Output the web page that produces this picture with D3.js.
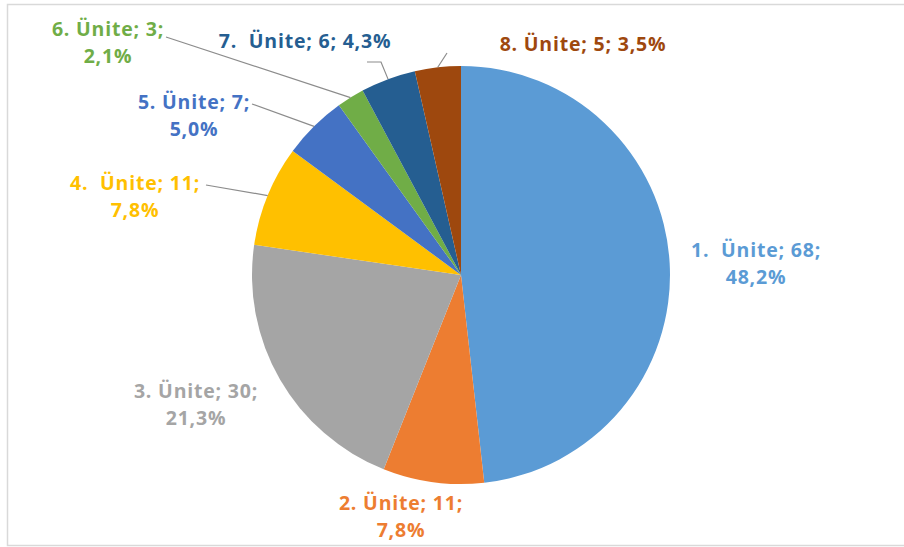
<!DOCTYPE html>
<html>
<head>
<meta charset="utf-8">
<script src="https://cdn.jsdelivr.net/npm/d3@7"></script>
<style>
  html, body { margin: 0; padding: 0; background: #fff; }
  svg { display: block; }
  text { font-family: "Open Sans", "Liberation Sans", sans-serif; font-weight: 700; white-space: pre; letter-spacing: 0.8px; }
</style>
</head>
<body>
<svg id="chart" width="904" height="547"></svg>
<script>
// Unit names, question counts and shares (percent) per unit
const units = ["1.  Ünite", "2. Ünite", "3. Ünite", "4.  Ünite", "5. Ünite", "6. Ünite", "7.  Ünite", "8. Ünite"];
const counts = [68, 11, 30, 11, 7, 3, 6, 5];
const shares = ["48,2%", "7,8%", "21,3%", "7,8%", "5,0%", "2,1%", "4,3%", "3,5%"];
const colors = ["#5B9BD5", "#ED7D31", "#A5A5A5", "#FFC000", "#4472C4", "#70AD47", "#255E91", "#9E480E"];

// Label placement: centre x, first baseline, whether the share goes on a second line,
// and the start of an optional leader line (with an optional elbow point).
const labelLayout = [
  { x: 756, y: 257, wrap: true },
  { x: 401, y: 510, wrap: true },
  { x: 196, y: 398, wrap: true },
  { x: 135, y: 190, wrap: true, leader: [[206, 185]] },
  { x: 194, y: 109, wrap: true, leader: [[252, 104]] },
  { x: 108, y: 36,  wrap: true, leader: [[166, 37]] },
  { x: 305, y: 48,  wrap: false, leader: [[367, 62], [381, 62]] },
  { x: 583, y: 51,  wrap: false, leader: [[447, 53]] }
];

const svg = d3.select("#chart");
const cx = 461, cy = 275, radius = 209;

// frame around the chart area
svg.append("rect")
  .attr("x", 7.5).attr("y", 4.5)
  .attr("width", 920).attr("height", 541)
  .attr("fill", "#fff")
  .attr("stroke", "#d9d9d9")
  .attr("stroke-width", 1.5);

const data = units.map((u, i) => ({ unit: u, count: counts[i], share: shares[i], color: colors[i], layout: labelLayout[i] }));

const pie = d3.pie().value(d => d.count).sort(null);
const arc = d3.arc().innerRadius(0).outerRadius(radius);
const arcs = pie(data);

const g = svg.append("g").attr("transform", `translate(${cx},${cy})`);

g.selectAll("path.slice")
  .data(arcs)
  .join("path")
  .attr("class", "slice")
  .attr("d", arc)
  .attr("fill", d => d.data.color);

// leader lines from labels to the slice edge at its mid angle
const leaders = arcs.filter(d => d.data.layout.leader);
svg.selectAll("path.leader")
  .data(leaders)
  .join("path")
  .attr("class", "leader")
  .attr("fill", "none")
  .attr("stroke", "#8c8c8c")
  .attr("stroke-width", 1.2)
  .attr("d", d => {
    const mid = (d.startAngle + d.endAngle) / 2;
    const edge = [cx + radius * Math.sin(mid), cy - radius * Math.cos(mid)];
    return d3.line()([...d.data.layout.leader, edge]);
  });

// data labels: "name; count;" and share
const labels = svg.selectAll("text.label")
  .data(data)
  .join("text")
  .attr("class", "label")
  .attr("text-anchor", "middle")
  .attr("font-size", 19.5)
  .attr("fill", d => d.color);

labels.each(function(d) {
  const t = d3.select(this);
  const L = d.layout;
  if (L.wrap) {
    t.append("tspan").attr("x", L.x).attr("y", L.y).text(`${d.unit}; ${d.count};`);
    t.append("tspan").attr("x", L.x).attr("y", L.y + 27).text(d.share);
  } else {
    t.append("tspan").attr("x", L.x).attr("y", L.y).text(`${d.unit}; ${d.count}; ${d.share}`);
  }
});
</script>
</body>
</html>
